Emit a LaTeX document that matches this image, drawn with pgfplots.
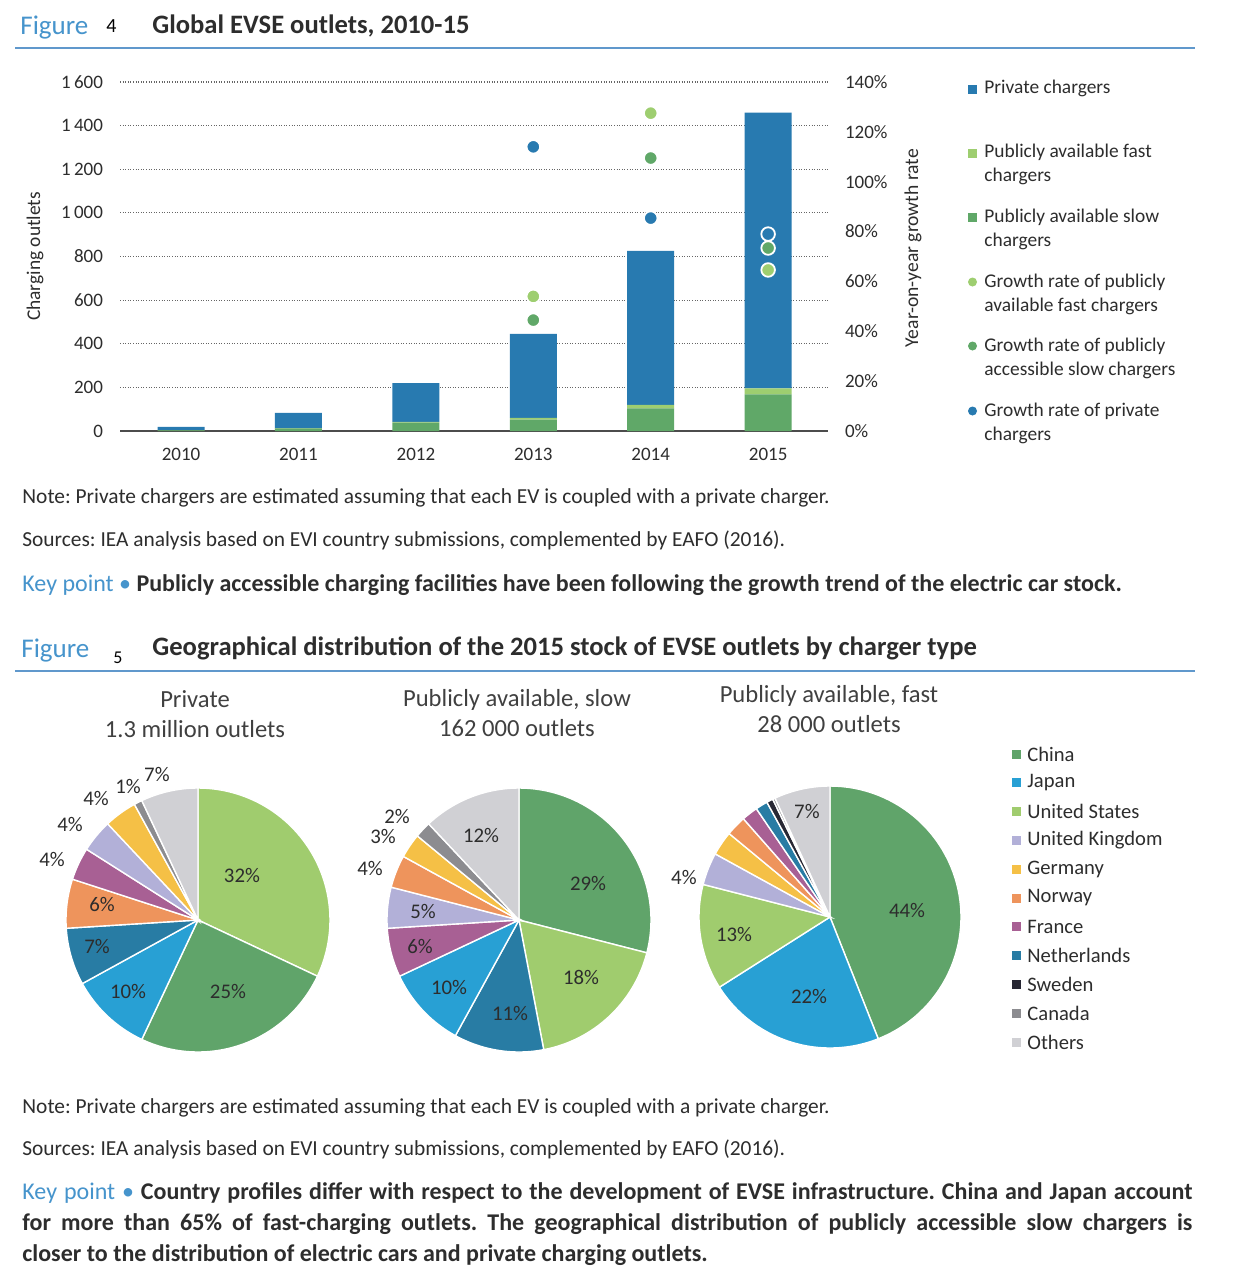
\documentclass[border=0pt]{standalone}
\usepackage{fontspec}
\setmainfont{Carlito}
\usepackage{pgfplots}
\pgfplotsset{compat=1.18}

% bar chart colours
\definecolor{cPriv}{RGB}{40,122,176}
\definecolor{cSlow}{RGB}{96,168,104}
\definecolor{cFast}{RGB}{158,206,112}
% pie colours
\definecolor{cChina}{RGB}{96,164,106}
\definecolor{cJapan}{RGB}{40,160,212}
\definecolor{cUS}{RGB}{160,204,110}
\definecolor{cUK}{RGB}{178,176,216}
\definecolor{cGermany}{RGB}{245,192,70}
\definecolor{cNorway}{RGB}{238,148,92}
\definecolor{cFrance}{RGB}{168,96,148}
\definecolor{cNeth}{RGB}{40,124,164}
\definecolor{cSweden}{RGB}{40,40,52}
\definecolor{cCanada}{RGB}{140,140,144}
\definecolor{cOthers}{RGB}{208,208,212}
% page colours
\definecolor{figblue}{RGB}{70,148,204}
\definecolor{rulecol}{RGB}{96,152,204}
\definecolor{txt}{RGB}{45,45,45}

\newcommand\fs[1]{\fontsize{#1}{#1}\selectfont}

% slices clockwise from 12 o'clock, list of pct/colour
\newcommand\pieslices[1]{%
  \gdef\cum{0}%
  \foreach \p/\c in {#1}{%
    \pgfmathsetmacro\aS{90-3.6*\cum}%
    \pgfmathsetmacro\aE{90-3.6*(\cum+\p)}%
    \edef\doslice{\noexpand\addplot[fill=\c, draw=white, line width=0.7pt,
      domain=\aE:\aS, samples=60, variable=\noexpand\t]
      ({cos(\noexpand\t)},{sin(\noexpand\t)}) -- (axis cs:0,0) -- cycle;}%
    \doslice
    \pgfmathsetmacro\newcum{\cum+\p}%
    \xdef\cum{\newcum}%
  }%
}

\tikzset{pl/.style={font=\fs{10.4}, text=txt, inner sep=0pt}}
\pgfplotsset{
  /pgf/number format/assume math mode=true,
  pie/.style={anchor=center, scale only axis, hide axis, clip=false,
    xmin=-1.3, xmax=1.3, ymin=-1.3, ymax=1.3},
  barbase/.style={at={(60pt,-215.5pt)}, anchor=south west, scale only axis,
    width=354pt, height=174.5pt, xmin=2009.48, xmax=2015.51,
    enlargelimits=false, major tick length=0pt,
    tick label style={font=\fs{9.5}, text=txt},
    y axis line style={draw=none}},
}

\begin{document}
\frenchspacing
\begin{tikzpicture}
\path[use as bounding box] (0,0) rectangle (617pt,-640pt);
\fill[white] (0,0) rectangle (617pt,-640pt);

% ---------- Figure 4: bars ----------
\begin{axis}[barbase,
  ybar stacked, bar width=23.5pt,
  ymin=0, ymax=1600,
  xtick={2010,2011,2012,2013,2014,2015},
  ytick={0,200,...,1600},
  x tick label style={/pgf/number format/1000 sep={}, yshift=-5pt},
  y tick label style={/pgf/number format/1000 sep={\,}, xshift=-5pt},
  axis x line*=bottom, axis y line*=left,
  x axis line style={line width=1pt, black!70},
  ymajorgrids,
  grid style={line width=0.6pt, dash pattern=on 0.5pt off 0.8pt, black!60},
  ylabel={Charging outlets},
  every axis y label/.style={at={(axis description cs:-0.12,0.5)},
    rotate=90, anchor=center, font=\fs{9.7}, text=txt},
]
\addplot[fill=cSlow, draw=none] coordinates
  {(2010,3) (2011,12) (2012,38) (2013,52) (2014,104) (2015,168)};
\addplot[fill=cFast, draw=none] coordinates
  {(2010,0.5) (2011,1.5) (2012,4) (2013,8) (2014,16) (2015,28)};
\addplot[fill=cPriv, draw=none] coordinates
  {(2010,15) (2011,70) (2012,178) (2013,385) (2014,706) (2015,1264)};
\end{axis}

% growth rates on the right axis
\begin{axis}[barbase,
  ymin=0, ymax=140, ytick={0,20,...,140},
  yticklabel={\pgfmathprintnumber{\tick}\%},
  y tick label style={xshift=5pt},
  axis y line*=right, axis x line=none,
  ylabel={Year-on-year growth rate},
  every axis y label/.style={at={(axis description cs:1.12,0.524)},
    rotate=90, anchor=center, font=\fs{9.8}, text=txt},
]
\addplot[only marks, mark=*, mark size=3.4pt,
  mark options={fill=cFast, draw=white, line width=0.9pt}]
  coordinates {(2013,54) (2014,127.5) (2015,64.6)};
\addplot[only marks, mark=*, mark size=3.4pt,
  mark options={fill=cSlow, draw=white, line width=0.9pt}]
  coordinates {(2013,44.5) (2014,109.5) (2015,73.4)};
\addplot[only marks, mark=*, mark size=3.4pt,
  mark options={fill=cPriv, draw=white, line width=0.9pt}]
  coordinates {(2013,114) (2014,85.4) (2015,79)};
\end{axis}

% ---------- Figure 5: pies ----------
\begin{axis}[pie, at={(99pt,-460pt)}, width=171.6pt, height=171.6pt]
\pieslices{32/cUS, 25/cChina, 10/cJapan, 7/cNeth, 6/cNorway, 4/cFrance,
  4/cUK, 4/cGermany, 1/cCanada, 7/cOthers}
\node[pl] at (axis cs:0.333,0.341) {32\%};
\node[pl] at (axis cs:0.227,-0.538) {25\%};
\node[pl] at (axis cs:-0.53,-0.538) {10\%};
\node[pl] at (axis cs:-0.765,-0.197) {7\%};
\node[pl] at (axis cs:-0.727,0.114) {6\%};
\node[pl] at (axis cs:-1.106,0.455) {4\%};
\node[pl] at (axis cs:-0.97,0.727) {4\%};
\node[pl] at (axis cs:-0.773,0.924) {4\%};
\node[pl] at (axis cs:-0.53,1.015) {1\%};
\node[pl] at (axis cs:-0.311,1.106) {7\%};
\end{axis}

\begin{axis}[pie, at={(259.5pt,-460pt)}, width=171.6pt, height=171.6pt]
\pieslices{29/cChina, 18/cUS, 11/cNeth, 10/cJapan, 6/cFrance, 5/cUK,
  4/cNorway, 3/cGermany, 2/cCanada, 12/cOthers}
\node[pl] at (axis cs:0.523,0.28) {29\%};
\node[pl] at (axis cs:0.47,-0.432) {18\%};
\node[pl] at (axis cs:-0.068,-0.705) {11\%};
\node[pl] at (axis cs:-0.53,-0.515) {10\%};
\node[pl] at (axis cs:-0.75,-0.197) {6\%};
\node[pl] at (axis cs:-0.727,0.068) {5\%};
\node[pl] at (axis cs:-1.129,0.394) {4\%};
\node[pl] at (axis cs:-1.03,0.629) {3\%};
\node[pl] at (axis cs:-0.924,0.788) {2\%};
\node[pl] at (axis cs:-0.288,0.644) {12\%};
\end{axis}

\begin{axis}[pie, at={(415pt,-458.5pt)}, width=170.3pt, height=170.3pt]
\pieslices{44/cChina, 22/cJapan, 13/cUS, 4/cUK, 3/cGermany, 2.5/cNorway,
  2/cFrance, 1.5/cNeth, 0.8/cSweden, 0.3/cCanada, 6.9/cOthers}
\node[pl] at (axis cs:0.588,0.053) {44\%};
\node[pl] at (axis cs:-0.16,-0.603) {22\%};
\node[pl] at (axis cs:-0.733,-0.137) {13\%};
\node[pl] at (axis cs:-1.115,0.305) {4\%};
\node[pl] at (axis cs:-0.176,0.802) {7\%};
\end{axis}

% ---------- page text, in pixel units ----------
\begin{scope}[x=0.5pt, y=-0.5pt, every node/.style={inner sep=0pt, text=txt}]
% figure 4 heading
\node[anchor=base west, text=figblue, font=\fs{13.5}] at (20,34) {Figure};
\node[anchor=base west, text=black, font=\fs{10}] at (106,32) {4};
\node[anchor=base west, font=\fs{13.3}\bfseries] at (152,33) {Global EVSE outlets, 2010-15};
\draw[rulecol, line width=1.1pt] (15,48) -- (1195,48);

% bar legend
\fill[cPriv] (968,84.5) rectangle (977,93.5);
\node[anchor=west, font=\fs{9.7}] at (984,88) {Private chargers};
\fill[cFast] (968,148.5) rectangle (977,157.5);
\node[anchor=west, font=\fs{9.7}] at (984,152) {Publicly available fast};
\node[anchor=west, font=\fs{9.7}] at (984,176) {chargers};
\fill[cSlow] (968,212.5) rectangle (977,221.5);
\node[anchor=west, font=\fs{9.7}] at (984,217) {Publicly available slow};
\node[anchor=west, font=\fs{9.7}] at (984,241) {chargers};
\fill[cFast] (972.5,282) circle (4.5);
\node[anchor=west, font=\fs{9.7}] at (984,282) {Growth rate of publicly};
\node[anchor=west, font=\fs{9.7}] at (984,306) {available fast chargers};
\fill[cSlow] (972.5,346) circle (4.5);
\node[anchor=west, font=\fs{9.7}] at (984,346) {Growth rate of publicly};
\node[anchor=west, font=\fs{9.7}] at (984,370) {accessible slow chargers};
\fill[cPriv] (972.5,411) circle (4.5);
\node[anchor=west, font=\fs{9.7}] at (984,411) {Growth rate of private};
\node[anchor=west, font=\fs{9.7}] at (984,435) {chargers};

% figure 4 notes
\node[anchor=base west, font=\fs{10.7}] at (22,503) {Note: Private chargers are estimated assuming that each EV is coupled with a private charger.};
\node[anchor=base west, font=\fs{10.7}] at (22,546) {Sources: IEA analysis based on EVI country submissions, complemented by EAFO (2016).};
\node[anchor=base west, font=\fs{12}] at (22,591) {\textcolor{figblue}{Key point \textbullet} \textbf{Publicly accessible charging facilities have been following the growth trend of the electric car stock.}};

% figure 5 heading
\node[anchor=base west, text=figblue, font=\fs{13.5}] at (21,657) {Figure};
\node[anchor=base west, text=black, font=\fs{9}] at (113,663) {5};
\node[anchor=base west, font=\fs{13.3}\bfseries] at (152,655) {Geographical distribution of the 2015 stock of EVSE outlets by charger type};
\draw[rulecol, line width=1.1pt] (15,671) -- (1195,671);

% pie titles
\node[align=center, font=\fs{12.3}, text=black!75] at (195,714) {Private\\[3pt]1.3 million outlets};
\node[align=center, font=\fs{12.3}, text=black!75] at (517,713) {Publicly available, slow\\[3pt]162 000 outlets};
\node[align=center, font=\fs{12.3}, text=black!75] at (829,709) {Publicly available, fast\\[3pt]28 000 outlets};

% pie legend
\foreach \c/\n [count=\i from 0] in {cChina/China, cJapan/Japan, cUS/United States,
  cUK/United Kingdom, cGermany/Germany, cNorway/Norway, cFrance/France,
  cNeth/Netherlands, cSweden/Sweden, cCanada/Canada, cOthers/Others}{
  \fill[\c] (1012,{754+28.8*\i-4.5}) rectangle (1021,{754+28.8*\i+4.5});
  \node[anchor=west, font=\fs{10.3}] at (1027,{754+28.8*\i}) {\n};
}

% figure 5 notes
\node[anchor=base west, font=\fs{10.7}] at (22,1113) {Note: Private chargers are estimated assuming that each EV is coupled with a private charger.};
\node[anchor=base west, font=\fs{10.7}] at (22,1155) {Sources: IEA analysis based on EVI country submissions, complemented by EAFO (2016).};
\node[anchor=north west, text width=585pt, align=justify, font=\fontsize{12}{15.5}\selectfont] at (22,1182)
  {\textcolor{figblue}{Key point \textbullet} \textbf{Country profiles differ with respect to the development of EVSE infrastructure. China and Japan account\linebreak for more than 65\% of fast-charging outlets. The geographical distribution of publicly accessible slow chargers is\linebreak closer to the distribution of electric cars and private charging outlets.}};
\end{scope}
\end{tikzpicture}
\end{document}
